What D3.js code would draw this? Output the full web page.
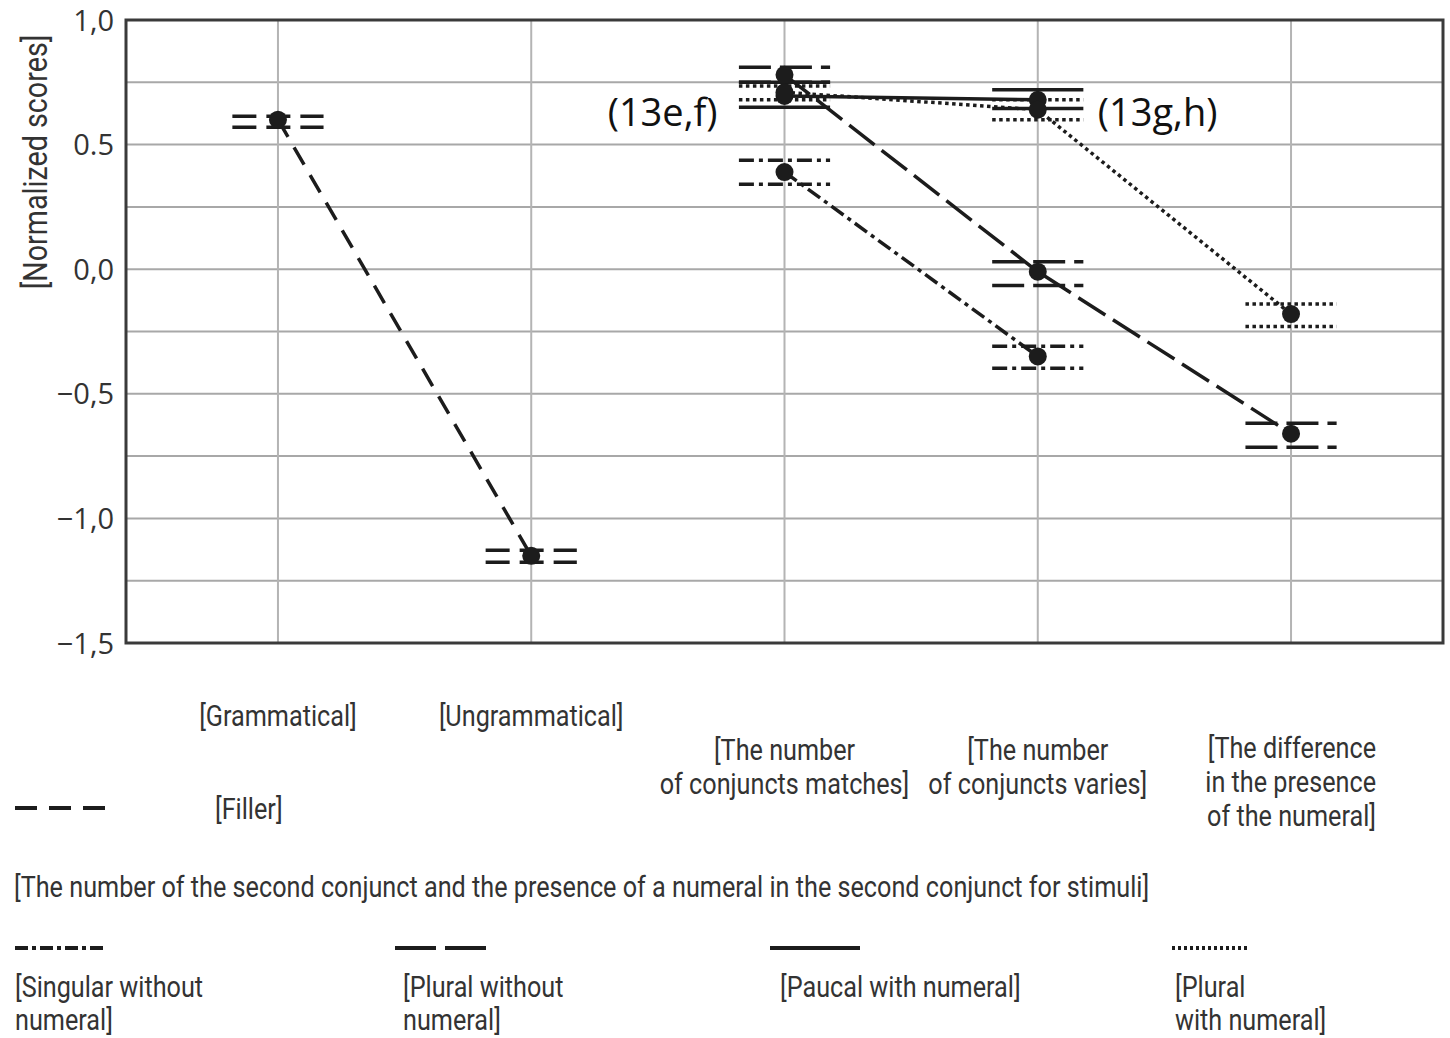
<!DOCTYPE html>
<html><head><meta charset="utf-8">
<script src="https://cdn.jsdelivr.net/npm/d3@7"></script>
<style>
html,body{margin:0;padding:0;background:#fff;}
svg{display:block;}
.nar{font-family:"Roboto","Noto Sans",sans-serif;fill:#333;}
</style></head>
<body>
<svg id="c" width="1450" height="1038"></svg>
<script>
// ---- data ----
const categories = ["[Grammatical]", "[Ungrammatical]", "[The number|of conjuncts matches]", "[The number|of conjuncts varies]", "[The difference|in the presence|of the numeral]"];
const yTickValues = [1.0, 0.5, 0.0, -0.5, -1.0, -1.5];
const yTickLabels = ["1,0", "0.5", "0,0", "\u22120,5", "\u22121,0", "\u22121,5"];
const gridValues = [0.75, 0.5, 0.25, 0, -0.25, -0.5, -0.75, -1.0, -1.25];

const fillerIdx = [0, 1];
const fillerVal = [0.60, -1.15];
const fillerHi  = [0.614, -1.128];
const fillerLo  = [0.570, -1.176];

const singularIdx = [2, 3];
const singularVal = [0.39, -0.35];
const singularHi  = [0.437, -0.309];
const singularLo  = [0.341, -0.397];

const pluralWoIdx = [2, 3, 4];
const pluralWoVal = [0.78, -0.01, -0.66];
const pluralWoHi  = [0.81, 0.03, -0.618];
const pluralWoLo  = [0.75, -0.065, -0.714];

const paucalIdx = [2, 3];
const paucalVal = [0.695, 0.68];
const paucalHi  = [0.75, 0.72];
const paucalLo  = [0.65, 0.645];

const pluralWIdx = [2, 3, 4];
const pluralWVal = [0.71, 0.64, -0.18];
const pluralWHi  = [0.735, 0.68, -0.14];
const pluralWLo  = [0.68, 0.60, -0.23];

const seriesNames = ["[Filler]", "[Singular without|numeral]", "[Plural without|numeral]", "[Paucal with numeral]", "[Plural|with numeral]"];
const stimuliTitle = "[The number of the second conjunct and the presence of a numeral in the second conjunct for stimuli]";
const yTitle = "[Normalized scores]";
const annotations = [{text: "(13e,f)", x: 2, v: 0.63}, {text: "(13g,h)", x: 3, v: 0.63}];

// ---- build ----
const svg = d3.select("#c");
const x = d3.scaleLinear().domain([-0.6, 4.6]).range([126, 1443]);
const y = d3.scaleLinear().domain([-1.5, 1.0]).range([643, 20]);
const ink = "#1c1c1c";
const FS = 29;

// narrow-text helper: measure the long title to get a horizontal condensing factor
const probe = svg.append("text").attr("class", "nar").attr("font-size", FS).text(stimuliTitle);
const SX = 1136 / probe.node().getComputedTextLength();
probe.remove();
function ntext(tx, ty, str, anchor, lh, rot, fs) {
  const g = svg.append("g").attr("transform", `translate(${tx},${ty})${rot ? " rotate(-90)" : ""} scale(${SX},1)`);
  const t = g.append("text").attr("class", "nar").attr("font-size", fs || FS).attr("text-anchor", anchor || "start");
  str.split("|").forEach((l, j) => t.append("tspan").attr("x", 0).attr("y", j * (lh || 34)).text(l));
  return t;
}

const series = [
  {idx: fillerIdx, val: fillerVal, hi: fillerHi, lo: fillerLo, dash: "20,12", barDash: "24,10"},
  {idx: singularIdx, val: singularVal, hi: singularHi, lo: singularLo, dash: "15,5,4,5", barDash: "15,5,4,5"},
  {idx: pluralWoIdx, val: pluralWoVal, hi: pluralWoHi, lo: pluralWoLo, dash: "32,9", barDash: "32,9"},
  {idx: paucalIdx, val: paucalVal, hi: paucalHi, lo: paucalLo, dash: null, barDash: null},
  {idx: pluralWIdx, val: pluralWVal, hi: pluralWHi, lo: pluralWLo, dash: "3.5,3.5", barDash: "3.5,3.5"}
];

// grid
svg.append("g").selectAll("line.h").data(gridValues).join("line")
  .attr("x1", x(-0.6)).attr("x2", x(4.6)).attr("y1", d => y(d)).attr("y2", d => y(d))
  .attr("stroke", "#a8a8a8").attr("stroke-width", 2);
svg.append("g").selectAll("line.v").data(d3.range(categories.length)).join("line")
  .attr("x1", d => x(d)).attr("x2", d => x(d)).attr("y1", y(1.0)).attr("y2", y(-1.5))
  .attr("stroke", "#b4b4b4").attr("stroke-width", 2);

// frame
svg.append("rect").attr("x", x(-0.6)).attr("y", y(1.0))
  .attr("width", x(4.6) - x(-0.6)).attr("height", y(-1.5) - y(1.0))
  .attr("fill", "none").attr("stroke", "#3a3a3a").attr("stroke-width", 3);

// y axis labels
const yAxis = d3.axisLeft(y).tickValues(yTickValues).tickSize(0).tickPadding(12)
  .tickFormat((d, i) => yTickLabels[i]);
const ya = svg.append("g").attr("transform", `translate(${x(-0.6)},0)`).call(yAxis);
ya.select(".domain").remove();
ya.selectAll("text").attr("font-family", "'Open Sans','Noto Sans',sans-serif").attr("font-size", 29)
  .attr("fill", "#333").attr("dy", "0.35em").attr("dx", 0);

ntext(47, 162, yTitle, "middle", 34, true, 33);

// series
const line = d3.line().x(d => x(d[0])).y(d => y(d[1]));
series.forEach(s => {
  const pts = s.idx.map((c, i) => [c, s.val[i]]);
  svg.append("path").datum(pts).attr("d", line).attr("fill", "none")
    .attr("stroke", ink).attr("stroke-width", 3.5).attr("stroke-dasharray", s.dash);
  const bars = [];
  s.idx.forEach((c, i) => { bars.push([c, s.hi[i]]); bars.push([c, s.lo[i]]); });
  svg.append("g").selectAll("line").data(bars).join("line")
    .attr("x1", d => x(d[0] - 0.18)).attr("x2", d => x(d[0] + 0.18))
    .attr("y1", d => y(d[1])).attr("y2", d => y(d[1]))
    .attr("stroke", ink).attr("stroke-width", 3.5).attr("stroke-dasharray", s.barDash);
});
series.forEach(s => {
  svg.append("g").selectAll("circle").data(s.idx.map((c, i) => [c, s.val[i]])).join("circle")
    .attr("cx", d => x(d[0])).attr("cy", d => y(d[1])).attr("r", 9).attr("fill", ink);
});

// annotations
svg.append("text").attr("x", x(2) - 67).attr("y", y(annotations[0].v)).attr("text-anchor", "end")
  .attr("font-family", "'Open Sans','Noto Sans',sans-serif").attr("font-size", 38).attr("fill", "#111")
  .attr("dy", "0.35em").text(annotations[0].text);
svg.append("text").attr("x", x(3) + 60).attr("y", y(annotations[1].v)).attr("text-anchor", "start")
  .attr("font-family", "'Open Sans','Noto Sans',sans-serif").attr("font-size", 38).attr("fill", "#111")
  .attr("dy", "0.35em").text(annotations[1].text);

// category labels
const catY = [726, 726, 760, 760, 758];
categories.forEach((c, i) => {
  const right = i === 4;
  ntext(right ? x(i) + 85 : x(i), catY[i], c, right ? "end" : "middle", 34);
});

// legends
function legendLine(x1, x2, yy, dash) {
  svg.append("line").attr("x1", x1).attr("x2", x2).attr("y1", yy).attr("y2", yy)
    .attr("stroke", ink).attr("stroke-width", 4).attr("stroke-dasharray", dash);
}
legendLine(15, 106, 808, "22,12");
ntext(215, 819, seriesNames[0], "start");

ntext(14, 897, stimuliTitle, "start");

legendLine(15, 106, 948, "13,4,4,4");
ntext(15, 997, seriesNames[1], "start", 33);
legendLine(395, 486, 948, "41,9");
ntext(403, 997, seriesNames[2], "start", 33);
legendLine(770, 860, 948, null);
ntext(780, 997, seriesNames[3], "start", 33);
legendLine(1172, 1248, 948, "3,3");
ntext(1175, 997, seriesNames[4], "start", 33);
</script>
</body></html>
